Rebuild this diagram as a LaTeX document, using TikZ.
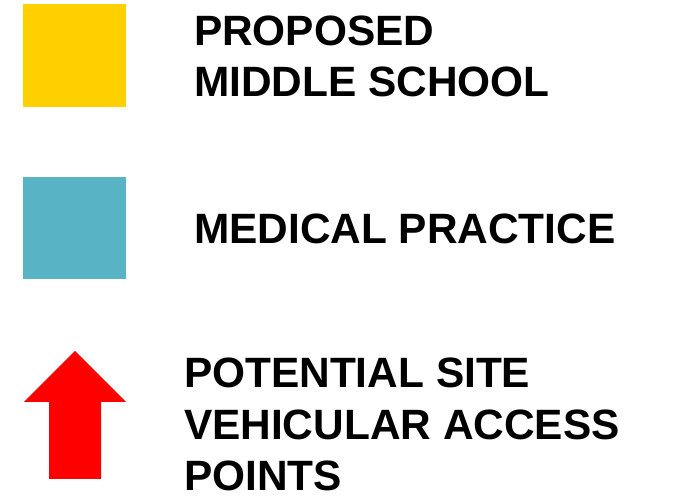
\documentclass[tikz,border=0pt]{standalone}
\usepackage{fontspec}
\setmainfont{Liberation Sans}
\definecolor{schoolyellow}{RGB}{255,208,0}
\definecolor{medteal}{RGB}{88,180,196}
\definecolor{accessred}{RGB}{255,0,0}
\begin{document}
\begin{tikzpicture}[x=1pt,y=-1pt,
  legendtext/.style={anchor=base west, inner sep=0pt, outer sep=0pt, align=left,
    font=\fontsize{42.4}{51.5}\selectfont\bfseries}]
\useasboundingbox (0,0) rectangle (673,502);
\fill[white] (0,0) rectangle (673,502);
% swatches
\fill[schoolyellow] (23,4) rectangle (126,107);
\fill[medteal] (23,177) rectangle (126,279);
\fill[accessred] (75,351) -- (126,402) -- (101,402) -- (101,479) -- (49,479) -- (49,402) -- (24,402) -- cycle;
% texts (base anchor = baseline of last line)
\node[legendtext] (school) at (194,97) {PROPOSED\\MIDDLE SCHOOL};
\node[legendtext] (medical) at (194,244) {MEDICAL PRACTICE};
\node[legendtext] (access) at (184,491) {POTENTIAL SITE\\VEHICULAR ACCESS\\POINTS};
\end{tikzpicture}
\end{document}
